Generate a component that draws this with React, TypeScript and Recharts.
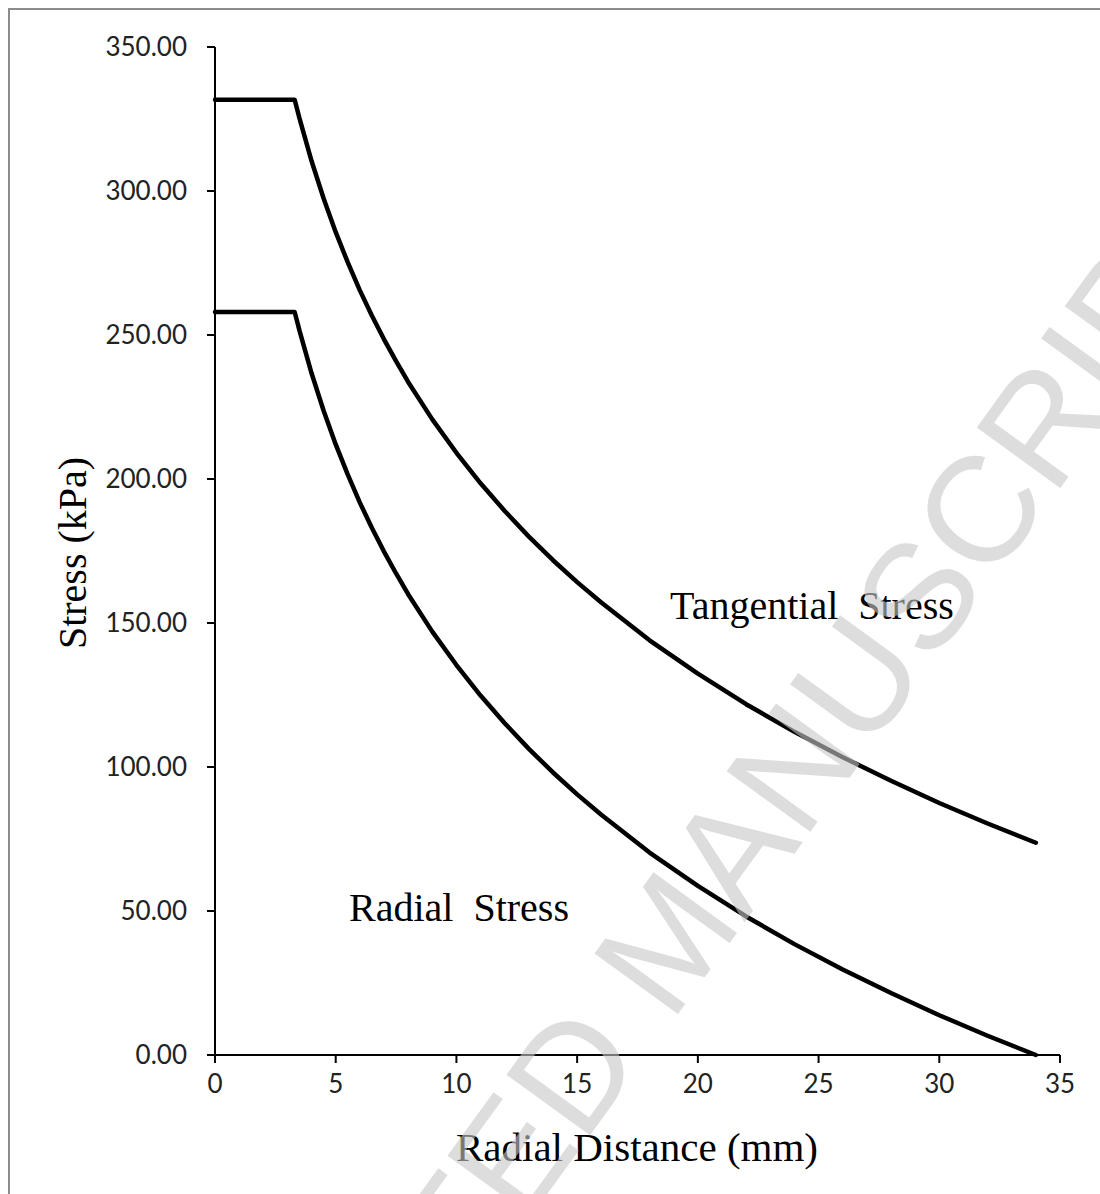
import React from 'react';
import { LineChart, Line, XAxis, YAxis } from 'recharts';

// values (kPa against mm)
const radialDistance = [0, 3.3, 3.5, 4, 4.5, 5, 5.5, 6, 6.5, 7, 7.5, 8, 9, 10, 11, 12, 13, 14, 15, 16, 18, 20, 22, 24, 26, 28, 30, 32, 34];
const tangentialStress = [331.7, 331.7, 325.2, 310.4, 297.4, 285.7, 275.2, 265.5, 256.7, 248.5, 240.9, 233.7, 220.7, 209.1, 198.5, 188.9, 180.0, 171.8, 164.2, 157.1, 144.0, 132.4, 121.8, 112.2, 103.4, 95.2, 87.5, 80.4, 73.7];
const radialStress = [258.0, 258.0, 251.5, 236.7, 223.7, 212.0, 201.5, 191.8, 183.0, 174.8, 167.2, 160.0, 147.0, 135.4, 124.8, 115.2, 106.3, 98.1, 90.5, 83.4, 70.3, 58.7, 48.1, 38.5, 29.7, 21.5, 13.8, 6.7, 0];

const xTicks = [0, 5, 10, 15, 20, 25, 30, 35];
const yTicks = [0, 50, 100, 150, 200, 250, 300, 350];

const data = radialDistance.map((r, i) => ({
  r,
  tangential: tangentialStress[i],
  radial: radialStress[i],
}));

const tickFont = 'Lato, "Open Sans", sans-serif';
const serifFont = '"Liberation Serif", "Times New Roman", serif';

const YTick = (props: any) => {
  const { x, y, payload } = props;
  return (
    <text x={x} y={y} dy={9} textAnchor="end" fontFamily={tickFont} fontSize={26} fill="#222">
      {Number(payload.value).toFixed(2)}
    </text>
  );
};

const XTick = (props: any) => {
  const { x, y, payload } = props;
  return (
    <text x={x} y={y + 28} textAnchor="middle" fontFamily={tickFont} fontSize={26} fill="#222">
      {payload.value}
    </text>
  );
};

const App: React.FC = () => {
  return (
    <div style={{ position: 'fixed', left: 0, top: 0, width: 1100, height: 1194, overflow: 'hidden', background: '#fff' }}>
      <div
        style={{
          position: 'absolute',
          left: 8,
          top: 8,
          width: 1090,
          height: 1190,
          border: '2px solid #8c8c8c',
          background: '#fff',
        }}
      >
        <LineChart width={1090} height={1190} data={data} margin={{ top: 37, right: 40, bottom: 0, left: 0 }}>
          <XAxis
            dataKey="r"
            type="number"
            domain={[0, 35]}
            ticks={xTicks}
            interval={0}
            height={145}
            tickSize={8}
            axisLine={{ stroke: '#000', strokeWidth: 2 }}
            tickLine={{ stroke: '#000', strokeWidth: 2 }}
            tick={XTick}
          />
          <YAxis
            type="number"
            domain={[0, 350]}
            ticks={yTicks}
            interval={0}
            width={205}
            tickSize={8}
            tickMargin={20}
            axisLine={{ stroke: '#000', strokeWidth: 2 }}
            tickLine={{ stroke: '#000', strokeWidth: 2 }}
            tick={YTick}
          />
          <Line type="linear" dataKey="tangential" stroke="#000" strokeWidth={4.5} strokeLinejoin="round" strokeLinecap="round" dot={false} isAnimationActive={false} />
          <Line type="linear" dataKey="radial" stroke="#000" strokeWidth={4.5} strokeLinejoin="round" strokeLinecap="round" dot={false} isAnimationActive={false} />
        </LineChart>

        <svg
          width={1090}
          height={1190}
          style={{ position: 'absolute', left: 0, top: 0, pointerEvents: 'none' }}
        >
          <text x={627} y={1151} textAnchor="middle" fontFamily={serifFont} fontSize={41} fill="#000">
            Radial Distance (mm)
          </text>
          <text
            x={76}
            y={543}
            textAnchor="middle"
            fontFamily={serifFont}
            fontSize={40}
            fill="#000"
            transform="rotate(-90 76 543)"
          >
            Stress (kPa)
          </text>
          <text x={660} y={609} fontFamily={serifFont} fontSize={40} fill="#000" style={{ whiteSpace: 'pre' }}>
            Tangential  Stress
          </text>
          <text x={339} y={911} fontFamily={serifFont} fontSize={40} fill="#000" style={{ whiteSpace: 'pre' }}>
            Radial  Stress
          </text>
          <text
            x={700}
            y={960}
            textAnchor="middle"
            fontFamily='"Liberation Sans", Arial, sans-serif'
            fontSize={150}
            fill="#c8c8c8"
            opacity={0.6}
            transform="rotate(-54 700 960)"
          >
            ACCEPTED MANUSCRIPT
          </text>
        </svg>
      </div>
    </div>
  );
};

export default App;
